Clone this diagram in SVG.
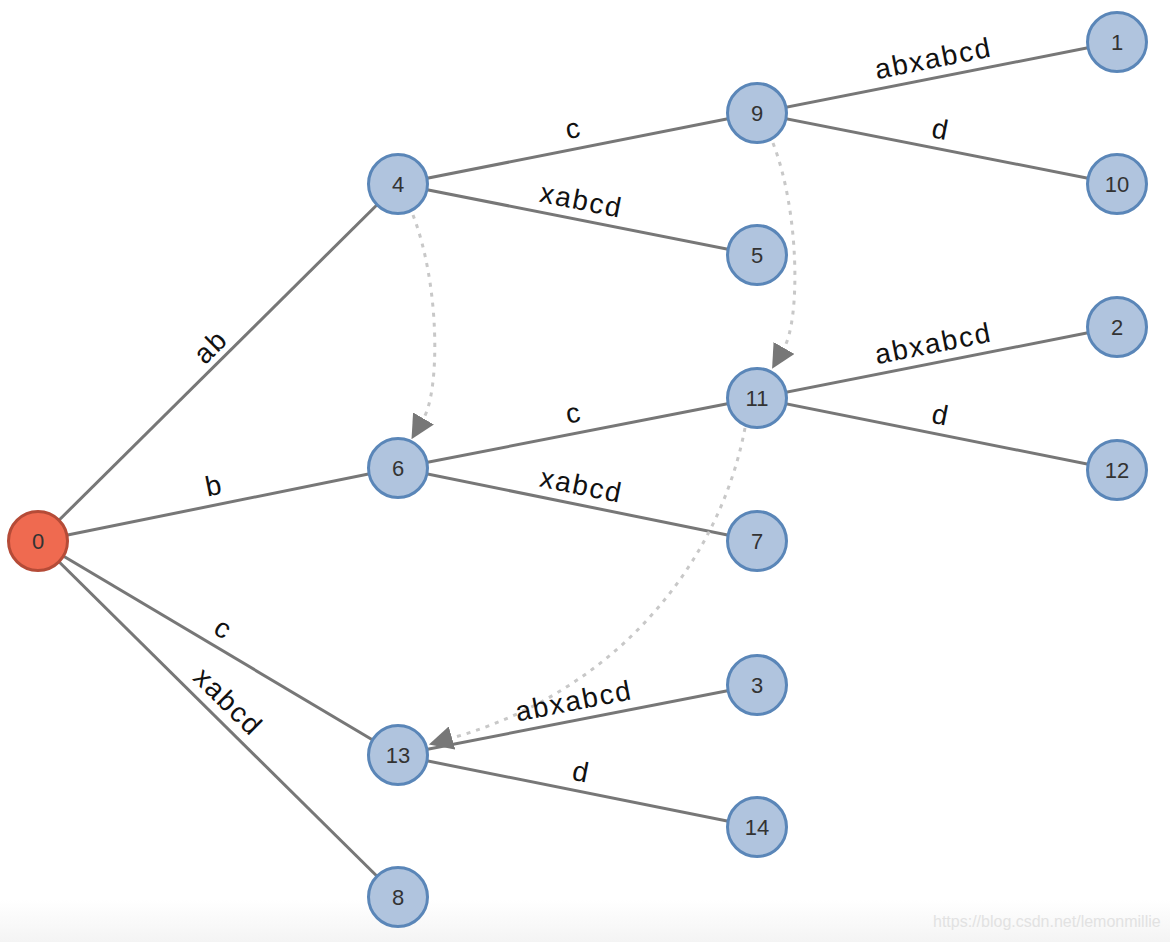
<svg xmlns="http://www.w3.org/2000/svg" width="1170" height="942" viewBox="0 0 1170 942">
<defs>
<style>
.edge{stroke:#777;stroke-width:3;fill:none}
.link{stroke:#c8c8c8;stroke-width:3;fill:none;stroke-dasharray:4 6}
.node circle{fill:#b0c4de;stroke:#5a86b8;stroke-width:3}
.root circle{fill:#ef6a50;stroke:#b54b37;stroke-width:3}
.node text,.root text{font-family:"Liberation Sans",Arial,sans-serif;font-size:22px;fill:#333;text-anchor:middle}
.lbl{font-family:"Liberation Sans",Arial,sans-serif;font-size:28px;fill:#111;text-anchor:middle;letter-spacing:1.8px}
.wm{font-family:"Liberation Sans",Arial,sans-serif;font-size:16px;fill:#e2e2e2}
</style>
<marker id="arr" viewBox="0 0 24 24" refX="0" refY="12" markerWidth="24" markerHeight="24" markerUnits="userSpaceOnUse" orient="auto">
<path d="M0,0 L24,12 L0,24 z" fill="#777"/>
</marker>
<linearGradient id="bar" x1="0" y1="0" x2="0" y2="1">
<stop offset="0" stop-color="#fff"/>
<stop offset="1" stop-color="#f4f4f4"/>
</linearGradient>
</defs>
<rect width="1170" height="942" fill="#fff"/>
<rect x="0" y="900" width="1170" height="42" fill="url(#bar)"/>
<g id="connectors">
<line class="edge" x1="38" y1="541" x2="398" y2="184"/>
<line class="edge" x1="38" y1="541" x2="398" y2="468"/>
<line class="edge" x1="38" y1="541" x2="398" y2="755"/>
<line class="edge" x1="38" y1="541" x2="398" y2="897"/>
<line class="edge" x1="398" y1="184" x2="757" y2="113"/>
<line class="edge" x1="398" y1="184" x2="757" y2="255"/>
<line class="edge" x1="398" y1="468" x2="757" y2="398"/>
<line class="edge" x1="398" y1="468" x2="757" y2="541"/>
<line class="edge" x1="398" y1="755" x2="757" y2="685"/>
<line class="edge" x1="398" y1="755" x2="757" y2="827"/>
<line class="edge" x1="757" y1="113" x2="1117" y2="42"/>
<line class="edge" x1="757" y1="113" x2="1117" y2="184"/>
<line class="edge" x1="757" y1="398" x2="1117" y2="327"/>
<line class="edge" x1="757" y1="398" x2="1117" y2="470"/>
<path class="link" d="M413,215 C440,285 440,390 423.5,418.5" marker-end="url(#arr)"/>
<path class="link" d="M773,143 C800,213 800,320 784,348" marker-end="url(#arr)"/>
<path class="link" d="M745,428 C720,560 620,690 452,738" marker-end="url(#arr)"/>
<text class="lbl" transform="translate(218,362.5) rotate(-44.76)" x="6" y="-7">ab</text>
<text class="lbl" transform="translate(218,504.5) rotate(-11.46)" y="-10">b</text>
<text class="lbl" transform="translate(218,648) rotate(30.73)" x="-5" y="-10">c</text>
<text class="lbl" transform="translate(218,719) rotate(44.68)" x="-5" y="-10">xabcd</text>
<text class="lbl" transform="translate(577.5,148.5) rotate(-11.19)" y="-11">c</text>
<text class="lbl" transform="translate(577.5,219.5) rotate(11.19)" y="-10">xabcd</text>
<text class="lbl" transform="translate(577.5,433) rotate(-11.03)" y="-11">c</text>
<text class="lbl" transform="translate(577.5,504.5) rotate(11.49)" y="-10">xabcd</text>
<text class="lbl" transform="translate(577.5,720) rotate(-11.03)" y="-10">abxabcd</text>
<text class="lbl" transform="translate(577.5,791) rotate(11.34)" y="-10">d</text>
<text class="lbl" transform="translate(937,77.5) rotate(-11.16)" y="-10">abxabcd</text>
<text class="lbl" transform="translate(937,148.5) rotate(11.16)" y="-10">d</text>
<text class="lbl" transform="translate(937,362.5) rotate(-11.16)" y="-10">abxabcd</text>
<text class="lbl" transform="translate(937,434) rotate(11.31)" y="-10">d</text>
</g>
<g id="n0" class="root"><circle cx="38" cy="541" r="29.5"/><text x="38" y="549">0</text></g>
<g id="n4" class="node"><circle cx="398" cy="184" r="29.5"/><text x="398" y="192">4</text></g>
<g id="n6" class="node"><circle cx="398" cy="468" r="29.5"/><text x="398" y="476">6</text></g>
<g id="n13" class="node"><circle cx="398" cy="755" r="29.5"/><text x="398" y="763">13</text></g>
<g id="n8" class="node"><circle cx="398" cy="897" r="29.5"/><text x="398" y="905">8</text></g>
<g id="n9" class="node"><circle cx="757" cy="113" r="29.5"/><text x="757" y="121">9</text></g>
<g id="n5" class="node"><circle cx="757" cy="255" r="29.5"/><text x="757" y="263">5</text></g>
<g id="n11" class="node"><circle cx="757" cy="398" r="29.5"/><text x="757" y="406">11</text></g>
<g id="n7" class="node"><circle cx="757" cy="541" r="29.5"/><text x="757" y="549">7</text></g>
<g id="n3" class="node"><circle cx="757" cy="685" r="29.5"/><text x="757" y="693">3</text></g>
<g id="n14" class="node"><circle cx="757" cy="827" r="29.5"/><text x="757" y="835">14</text></g>
<g id="n1" class="node"><circle cx="1117" cy="42" r="29.5"/><text x="1117" y="50">1</text></g>
<g id="n10" class="node"><circle cx="1117" cy="184" r="29.5"/><text x="1117" y="192">10</text></g>
<g id="n2" class="node"><circle cx="1117" cy="327" r="29.5"/><text x="1117" y="335">2</text></g>
<g id="n12" class="node"><circle cx="1117" cy="470" r="29.5"/><text x="1117" y="478">12</text></g>
<text class="wm" x="933" y="927">https://blog.csdn.net/lemonmillie</text>
</svg>
